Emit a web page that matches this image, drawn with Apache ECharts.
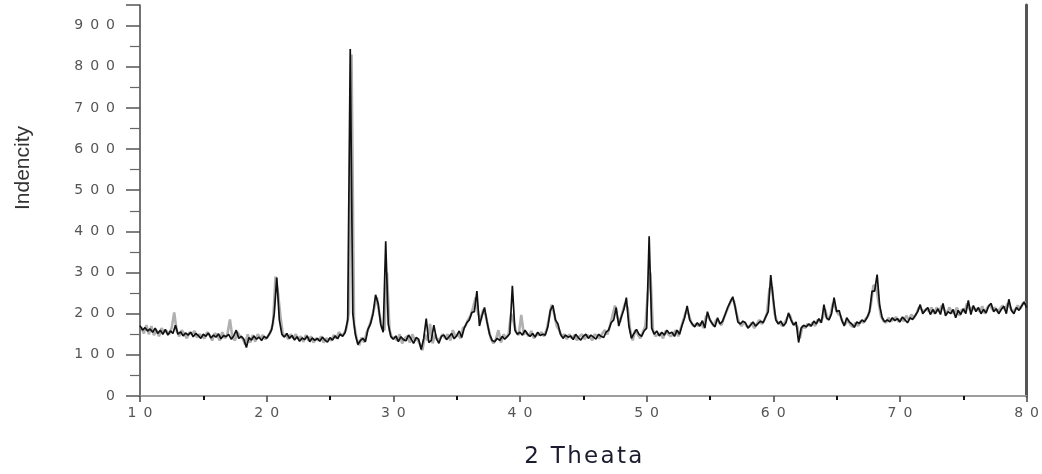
<!DOCTYPE html>
<html>
<head>
<meta charset="utf-8">
<script src="https://cdn.jsdelivr.net/npm/echarts@6/dist/echarts.min.js"></script>
<style>html,body{margin:0;padding:0;background:#fff;}#c{width:1042px;height:474px;}</style>
</head>
<body>
<div id="c"></div>
<script>
// 2θ sampling of the dark trace: starts at 10°, one value every 0.2°
const blackStart = 10, blackStep = 0.2;
const blackIntensity = [
  171,160,166,158,163, 155,165,152,160,150, 162,148,158,152,172, 150,156,146,153,148,
  155,144,152,147,140, 150,145,153,141,148, 143,151,139,147,144, 150,138,146,160,140,
  145,138,118,142,136, 146,138,143,135,145, 140,150,162,200,288, 185,150,143,152,140,
  147,136,144,133,141, 137,146,132,141,135, 140,133,143,136,131, 142,136,146,139,150,
  145,155,185,843,200, 150,125,135,140,132, 162,175,200,246,225, 175,155,376,175,145,
  138,146,132,144,137, 134,148,139,128,142, 138,113,140,188,130, 135,172,140,128,145,
  148,137,144,152,139, 146,158,142,165,178, 185,203,205,255,170, 195,215,180,150,135,
  132,140,135,145,138, 144,152,268,160,150, 155,148,160,150,145, 152,143,155,147,150,
  148,168,208,220,185, 175,150,140,148,143, 146,137,150,142,136, 145,150,140,148,143,
  138,150,145,142,155, 160,178,185,215,170, 192,210,239,170,140, 152,162,150,145,158,
  165,388,165,150,158, 146,155,148,160,152, 155,145,160,150,172, 190,219,185,175,168,
  178,170,183,165,205, 185,175,168,190,175, 182,198,215,228,241, 215,180,175,182,178,
  165,172,180,170,176, 182,178,192,205,294, 235,185,175,182,170, 178,202,185,172,180,
  130,165,172,168,175, 170,182,175,188,178, 222,190,185,200,239, 205,208,185,170,190,
  180,175,167,180,176, 185,180,190,205,255, 255,295,220,190,180, 185,180,190,183,188,
  180,192,185,178,190, 186,195,205,222,200, 208,215,198,210,200, 212,198,225,195,205,
  200,210,190,208,198, 212,200,232,198,220, 205,215,200,210,202, 218,225,205,212,200,
  210,218,200,235,208, 200,215,208,218,228, 215
];
// light grey trace: starts at 10.1°, one value every 0.2°
const greyStart = 10.1, greyStep = 0.2;
const greyIntensity = [
  168,152,172,150,170, 148,160,145,165,155, 158,150,165,203,158, 145,160,150,140,155,
  150,158,142,150,145, 140,155,148,135,152, 148,135,155,140,150, 186,142,135,155,145,
  140,125,150,130,148, 132,150,140,148,138, 145,155,175,290,250, 190,145,150,138,150,
  140,150,138,145,132, 148,135,145,130,140, 135,145,130,140,138, 135,148,140,155,148,
  150,165,203,830,175, 140,123,142,130,155, 170,190,215,240,200, 165,160,300,160,140,
  142,135,150,128,140, 145,130,150,135,138, 125,111,150,135,175, 128,150,135,140,150,
  140,150,135,160,145, 150,140,165,170,185, 195,215,240,200,185, 210,195,165,140,128,
  138,160,130,150,142, 150,200,180,155,148, 197,150,155,145,158, 140,150,148,155,145,
  160,190,222,200,170, 160,145,150,138,150, 140,148,135,145,150, 138,148,145,135,150,
  145,140,152,160,150, 170,195,220,190,180, 205,225,215,160,135, 160,150,140,155,170,
  250,300,160,145,150, 152,140,158,150,145, 150,160,145,165,185, 205,200,180,170,175,
  170,178,165,195,190, 180,170,185,180,172, 190,205,220,235,230, 200,178,170,180,170,
  168,178,165,175,185, 175,185,200,261,265, 200,180,178,170,178, 190,198,178,175,168,
  140,170,165,175,170, 178,170,185,180,190, 210,185,195,225,215, 200,195,178,175,185,
  172,168,178,170,182, 178,188,195,220,268, 270,230,195,182,178, 190,182,186,192,180,
  188,182,195,185,198, 190,200,215,210,205, 212,205,215,200,215, 205,220,210,200,215,
  205,200,215,195,210, 205,225,210,215,210, 212,205,218,200,215, 222,210,215,205,212,
  220,210,225,215,205, 210,220,212,225,230
];
const xMin = 10, xMax = 80, xInterval = 10;
const yMin = 0, yMax = 950, yInterval = 100;
const xName = '2 Theata';
const yName = 'Indencity';

const toPairs = (start, step, arr) => arr.map((v, i) => [+(start + i * step).toFixed(2), v]);
const spaced = s => String(s).split('').join('\u2002');

const chart = echarts.init(document.getElementById('c'), null, {renderer: 'canvas'});
chart.setOption({
  animation: false,
  backgroundColor: '#ffffff',
  grid: {left: 140, right: 14, top: 5, bottom: 75, containLabel: false},
  xAxis: [{
    type: 'value', min: xMin, max: xMax, interval: xInterval,
    name: xName.split('').join('\u200A'), nameLocation: 'middle', nameGap: 50,
    nameTextStyle: {fontFamily: 'DejaVu Sans', fontSize: 23, color: '#1c1c30'},
    axisLine: {show: true, onZero: false, lineStyle: {color: '#8a8a8a', width: 1.5}},
    axisTick: {show: true, inside: false, length: 6, lineStyle: {color: '#444', width: 1.5}},
    minorTick: {show: true, splitNumber: 2, length: 4, lineStyle: {color: '#111', width: 2}},
    axisLabel: {margin: 10, fontFamily: 'DejaVu Sans', fontSize: 14, color: '#555', formatter: v => spaced(v)},
    splitLine: {show: false}
  }, {
    type: 'value', min: xMin, max: xMax, position: 'top',
    axisLine: {show: true, lineStyle: {color: '#9a9a9a', width: 1.5}},
    axisTick: {show: false}, axisLabel: {show: false}, splitLine: {show: false}
  }],
  yAxis: [{
    type: 'value', min: yMin, max: yMax, interval: yInterval,
    axisLine: {show: true, lineStyle: {color: '#444', width: 1.5}},
    axisTick: {show: true, inside: false, length: 14, lineStyle: {color: '#555', width: 1.5}},
    minorTick: {show: true, splitNumber: 2, length: 10, lineStyle: {color: '#666', width: 1.2}},
    axisLabel: {margin: 25, fontFamily: 'DejaVu Sans', fontSize: 14, color: '#555', showMaxLabel: false,
      formatter: v => (v > 900 ? '' : spaced(v))},
    splitLine: {show: false}
  }, {
    type: 'value', min: yMin, max: yMax, position: 'right',
    axisLine: {show: true, lineStyle: {color: '#555', width: 3}},
    axisTick: {show: false}, axisLabel: {show: false}, splitLine: {show: false}
  }],
  graphic: [{
    type: 'text', x: 23, y: 168, rotation: Math.PI / 2,
    style: {text: yName, fontFamily: 'Liberation Sans Narrow, Liberation Sans', fontSize: 21,
      fill: '#333', align: 'center', verticalAlign: 'middle'}
  }],
  series: [{
    type: 'line', data: toPairs(greyStart, greyStep, greyIntensity), showSymbol: false,
    lineStyle: {color: '#b0b0b0', width: 2.6}, z: 2, silent: true
  }, {
    type: 'line', data: toPairs(blackStart, blackStep, blackIntensity), showSymbol: false,
    lineStyle: {color: '#111', width: 1.7}, z: 3, silent: true
  }]
});
</script>
</body>
</html>
